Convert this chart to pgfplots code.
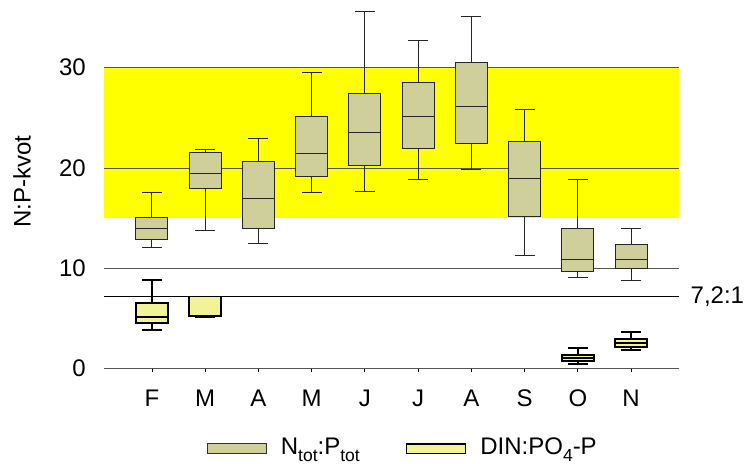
\documentclass[border=0pt]{standalone}
\usepackage{pgfplots}
\pgfplotsset{compat=1.18}
\usepgfplotslibrary{statistics}
\usepackage{fontspec}
\setmainfont{Liberation Sans}
\definecolor{band}{RGB}{255,255,0}
\definecolor{ntot}{RGB}{207,207,155}
\definecolor{din}{RGB}{242,242,150}
\definecolor{gridc}{RGB}{85,85,85}
\newcommand{\sub}[1]{\raisebox{-0.28em}{\fontsize{17.5bp}{20bp}\selectfont #1}}
\begin{document}
\fontsize{24bp}{28bp}\selectfont
\begin{tikzpicture}
\begin{axis}[
  set layers,
  scale only axis,
  width=575bp, height=365.7bp,
  xmin=-0.9, xmax=9.9,
  ymin=0, ymax=36.5,
  axis y line*=left,
  y axis line style={draw=none},
  axis x line*=bottom,
  x axis line style={gridc, line width=0.8bp},
  xtick={0,...,9},
  xticklabels={F,M,A,M,J,J,A,S,O,N},
  tick align=outside,
  major tick length=4bp,
  xtick style={black, line width=0.8bp},
  ytick style={draw=none},
  xticklabel style={inner sep=0pt, anchor=north, yshift=-17bp},
  ytick={0,10,20,30},
  ymajorgrids,
  grid style={gridc, line width=0.8bp},
  yticklabel style={inner sep=0pt, anchor=east, xshift=-14bp},
  /pgf/number format/assume math mode=true,
  clip=false,
  ylabel={N:P-kvot},
  every axis y label/.style={at={(axis description cs:-0.1426,0.51)}, rotate=90, anchor=center},
  boxplot/draw direction=y,
  boxplot/box extend=0.6,
  boxplot/whisker extend=0.375,
  legend columns=2,
  legend style={draw=none, fill=none, inner sep=0pt, outer sep=0pt,
     at={(axis description cs:0.179,-0.218)}, anchor=west,
     nodes={inner sep=0pt}, column sep=14bp},
  legend image code/.code={\draw[#1] (0bp,-5.3bp) rectangle (59bp,4.3bp);},
]
% guideline band 15-30
\addplot[on layer=axis background, fill=band, draw=none, forget plot]
  coordinates {(-0.9,15) (9.9,15) (9.9,30) (-0.9,30)} -- cycle;
% 7.2:1 line
\addplot[black, line width=1.3bp, forget plot]
  coordinates {(-0.9,7.2) (9.9,7.2)} node[pos=1, anchor=west, inner sep=0pt, xshift=11bp]{7,2:1};

\addlegendimage{fill=ntot, draw=black!80, line width=0.9bp}
\addlegendentry{N\sub{tot}:P\sub{tot}\kern32bp}
\addlegendimage{fill=din, draw=black, line width=1.6bp}
\addlegendentry{DIN:PO\sub{4}-P}

% Ntot:Ptot boxes
\pgfplotsset{ntotbox/.style={forget plot, fill=ntot, draw=black!85, line width=0.9bp, solid}}
\addplot[ntotbox, boxplot prepared={draw position=0, lower whisker=12.1, lower quartile=12.9, median=14.0, upper quartile=15.1, upper whisker=17.6}] coordinates {};
\addplot[ntotbox, boxplot prepared={draw position=1, lower whisker=13.8, lower quartile=18.0, median=19.4, upper quartile=21.5, upper whisker=21.8}] coordinates {};
\addplot[ntotbox, boxplot prepared={draw position=2, lower whisker=12.5, lower quartile=14.0, median=17.0, upper quartile=20.6, upper whisker=22.9}] coordinates {};
\addplot[ntotbox, boxplot prepared={draw position=3, lower whisker=17.6, lower quartile=19.1, median=21.4, upper quartile=25.1, upper whisker=29.5}] coordinates {};
\addplot[ntotbox, boxplot prepared={draw position=4, lower whisker=17.7, lower quartile=20.2, median=23.5, upper quartile=27.4, upper whisker=35.6}] coordinates {};
\addplot[ntotbox, boxplot prepared={draw position=5, lower whisker=18.8, lower quartile=21.9, median=25.1, upper quartile=28.5, upper whisker=32.7}] coordinates {};
\addplot[ntotbox, boxplot prepared={draw position=6, lower whisker=19.8, lower quartile=22.4, median=26.1, upper quartile=30.5, upper whisker=35.1}] coordinates {};
\addplot[ntotbox, boxplot prepared={draw position=7, lower whisker=11.3, lower quartile=15.2, median=18.9, upper quartile=22.6, upper whisker=25.8}] coordinates {};
\addplot[ntotbox, boxplot prepared={draw position=8, lower whisker=9.1, lower quartile=9.7, median=10.9, upper quartile=14.0, upper whisker=18.8}] coordinates {};
\addplot[ntotbox, boxplot prepared={draw position=9, lower whisker=8.8, lower quartile=10.0, median=10.9, upper quartile=12.4, upper whisker=14.0}] coordinates {};

% DIN:PO4-P boxes
\pgfplotsset{dinbox/.style={forget plot, fill=din, draw=black, line width=1.6bp, solid}}
\addplot[dinbox, boxplot prepared={draw position=0, lower whisker=3.8, lower quartile=4.5, median=5.15, upper quartile=6.5, upper whisker=8.8}] coordinates {};
\addplot[dinbox, boxplot prepared={draw position=1, lower whisker=5.15, lower quartile=5.2, median=5.25, upper quartile=7.15, upper whisker=7.15}] coordinates {};
\addplot[dinbox, boxplot prepared={draw position=8, lower whisker=0.45, lower quartile=0.75, median=1.0, upper quartile=1.3, upper whisker=2.03}] coordinates {};
\addplot[dinbox, boxplot prepared={draw position=9, lower whisker=1.83, lower quartile=2.13, median=2.52, upper quartile=2.92, upper whisker=3.6}] coordinates {};
\end{axis}
\pgfresetboundingbox
\path[use as bounding box] (-104bp,-95.7bp) rectangle (645bp,368.3bp);
\end{tikzpicture}
\end{document}
